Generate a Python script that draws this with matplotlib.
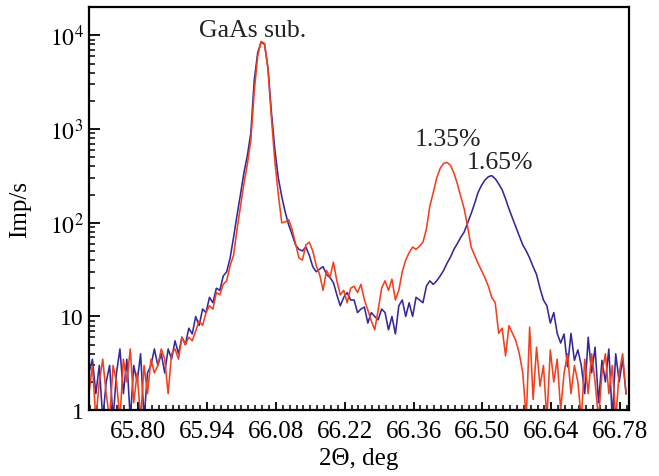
import numpy as np
import matplotlib
matplotlib.use("Agg")
import matplotlib.pyplot as plt
from matplotlib.ticker import FixedLocator, MultipleLocator, LogLocator, NullFormatter, FuncFormatter

plt.rcParams['font.family'] = ['Liberation Serif', 'DejaVu Serif']
plt.rcParams['mathtext.fontset'] = 'stix'

# measurement grid, 2theta in degrees
two_theta = np.round(np.arange(156 + 1) * 0.007 + 65.700, 3)

# 1.65 % sample (blue)
imp_165 = [
    2.5, 3.5, 1.5, 3, 0.8, 2, 3, 0.8, 2.5, 4.5,
    1.5, 3.5, 0.8, 3, 2, 4, 0.8, 2.5, 3, 4.5,
    3, 4, 2.5, 4.5, 3.5, 5.5, 4, 6, 5, 7.5,
    6.5, 10, 8, 12, 11, 16, 14, 20, 19, 27,
    30, 42, 70, 120, 200, 340, 520, 900, 3300, 6500,
    8500, 8000, 4500, 1500, 600, 300, 190, 130, 95, 75,
    58, 52, 50, 55, 45, 34, 30, 32, 34, 28,
    26, 23, 17, 13, 16, 18, 15, 15, 11, 12,
    12.6, 8.5, 11, 10, 9.2, 12, 11, 7.2, 10, 6.5,
    13, 15, 10, 14, 10, 16, 15, 14, 21, 24,
    22, 24, 27, 31, 37, 43, 52, 60, 70, 80,
    100, 125, 160, 210, 250, 285, 310, 318, 295, 260,
    225, 180, 140, 112, 90, 72, 58, 50, 42, 34,
    28, 20, 15, 13, 8.5, 11, 6.6, 5.2, 6.5, 2.9,
    6.6, 3.4, 4.4, 3, 1.5, 6, 2.5, 4.7, 1.2, 3.4,
    2, 4.5, 0.8, 4, 2, 3.5, 1.5,
]

# 1.35 % sample (red)
imp_135 = [
    1.5, 3, 0.8, 2, 3.5, 1.5, 0.8, 3, 2, 0.8,
    3.5, 2, 4.5, 1.2, 2.5, 0.8, 3, 1.5, 3.5, 2.5,
    3, 4.5, 3.5, 1.5, 4, 4.5, 3.5, 6, 5, 6,
    5.5, 7, 9, 8, 11, 13, 12, 18, 17, 22,
    24, 35, 45, 85, 150, 260, 420, 750, 2500, 6000,
    8600, 8200, 4300, 1300, 450, 200, 100, 102, 108, 85,
    60, 42, 40, 58, 62, 50, 35, 28, 19, 31,
    26, 38, 24, 17, 19, 14, 20, 21, 18, 22,
    15, 11.7, 9, 7.2, 11.7, 20, 24, 19, 25, 15,
    19, 30, 40, 48, 55, 52, 56, 62, 85, 150,
    210, 300, 380, 430, 440, 410, 340, 260, 190, 140,
    90, 55, 45, 37, 31, 26, 21, 16, 14, 6.6,
    7.5, 3.8, 8, 6.6, 5.5, 4, 2.5, 0.8, 7.7, 1.3,
    4.7, 1.8, 3, 0.8, 4.4, 2, 3.5, 1, 2.5, 4,
    1.5, 3, 2, 0.8, 3.5, 1.5, 4, 2, 0.8, 2.5,
    4, 1.5, 3, 0.8, 2.5, 4, 1.5,
]

x_ticks = [65.80, 65.94, 66.08, 66.22, 66.36, 66.50, 66.64, 66.78]
y_ticks = [1, 10, 100, 1000, 10000]

fig = plt.figure(figsize=(6.59, 4.77), dpi=100)
ax = fig.add_axes([0.135, 0.138, 0.8195, 0.845])

ax.plot(two_theta, imp_165, color='#35289a', lw=1.15)
ax.plot(two_theta, imp_135, color='#f2401e', lw=1.15)

ax.set_yscale('log')
ax.set_xlim(65.70, 66.798)
ax.set_ylim(1, 2.0e4)

ax.xaxis.set_major_locator(FixedLocator(x_ticks))
ax.xaxis.set_minor_locator(MultipleLocator(0.014))
ax.xaxis.set_major_formatter(FuncFormatter(lambda v, p: '%.2f' % v))
ax.yaxis.set_major_locator(FixedLocator(y_ticks))
ax.yaxis.set_minor_locator(LogLocator(base=10, subs=np.arange(2, 10)))
ax.yaxis.set_minor_formatter(NullFormatter())


def ylab(v, p):
    if v < 100:
        return '%d' % v
    return r'$10^{%d}$' % round(np.log10(v))


ax.yaxis.set_major_formatter(FuncFormatter(ylab))

for s in ax.spines.values():
    s.set_linewidth(1.6)
ax.tick_params(axis='x', which='major', direction='in', length=6, width=1.3,
               labelsize=18, pad=7)
ax.tick_params(axis='x', which='minor', direction='in', length=3.5, width=1.1)
ax.tick_params(axis='y', which='major', direction='in', length=8, width=1.3,
               labelsize=17, pad=4)
ax.tick_params(axis='y', which='minor', direction='in', length=4.5, width=1.1)

ax.set_xlabel('2Θ, deg', fontsize=18, labelpad=3.5)
ax.set_ylabel('Imp/s', fontsize=18, labelpad=13)

ax.text(66.033, 9800, 'GaAs sub.', fontsize=18.5, ha='center', va='baseline', color='#222222')
ax.text(66.429, 682, '1.35%', fontsize=18.5, ha='center', va='baseline', color='#222222')
ax.text(66.536, 387, '1.65%', fontsize=18.5, ha='center', va='baseline', color='#222222')

fig.savefig('out.png', dpi=100)
